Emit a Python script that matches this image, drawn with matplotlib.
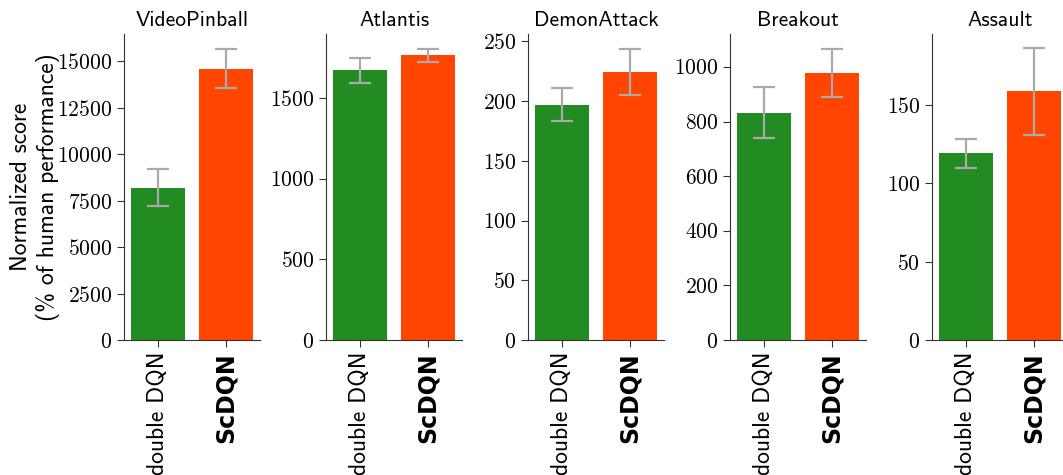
import matplotlib
matplotlib.use("Agg")
import matplotlib.pyplot as plt
from matplotlib.ticker import FuncFormatter, MultipleLocator

# Values
games = ["VideoPinball", "Atlantis", "DemonAttack", "Breakout", "Assault"]
methods = ["double DQN", "ScDQN"]
means = [
    [8200, 14600],
    [1675, 1765],
    [197, 224],
    [832, 978],
    [119, 159],
]
err_low = [
    [7200, 13550],
    [1590, 1722],
    [183, 205],
    [740, 890],
    [110, 131],
]
err_high = [
    [9200, 15650],
    [1745, 1802],
    [211, 244],
    [925, 1065],
    [128, 186],
]
y_tops = [16450, 1895, 256, 1120, 195]
y_steps = [2500, 500, 50, 200, 50]

colors = ["#228B22", "#FF4500"]

plt.rcParams["font.family"] = ["cmss10", "DejaVu Sans"]
plt.rcParams["mathtext.fontset"] = "cm"
plt.rcParams["axes.unicode_minus"] = False

fig = plt.figure(figsize=(10.63, 4.75), dpi=100)

serif_fmt = FuncFormatter(lambda v, _: f"${v:.0f}$")

for i, game in enumerate(games):
    left = (124 + 202 * i) / 1063
    ax = fig.add_axes([left, 0.284, 136 / 1063, 0.644])
    x = list(range(len(methods)))
    lower = [m - lo for m, lo in zip(means[i], err_low[i])]
    upper = [hi - m for m, hi in zip(means[i], err_high[i])]
    ax.bar(x, means[i], width=0.8, color=colors)
    ax.errorbar(x, means[i], yerr=[lower, upper], fmt="none",
                ecolor="#aaaaaa", elinewidth=1.6, capsize=8, capthick=1.6)
    ax.set_xlim(-0.5, 1.5)
    ax.set_ylim(0, y_tops[i])
    ax.yaxis.set_major_locator(MultipleLocator(y_steps[i]))
    ax.yaxis.set_major_formatter(serif_fmt)
    ax.set_xticks(x)
    ax.set_xticklabels(methods, rotation=90, fontsize=17)
    ax.get_xticklabels()[1].set_fontweight("bold")
    ax.get_xticklabels()[1].set_family("DejaVu Sans")
    ax.tick_params(axis="y", labelsize=15.5, length=5, color="#333333")
    ax.tick_params(axis="x", length=5, color="#333333")
    ax.set_title(game, fontsize=15.5)
    for side in ["top", "right"]:
        ax.spines[side].set_visible(False)
    for side in ["left", "bottom"]:
        ax.spines[side].set_color("#333333")
    if i == 0:
        ax.set_ylabel("Normalized score\n(% of human performance)",
                      fontsize=17, labelpad=-2)

fig.savefig("out.png", dpi=100)
